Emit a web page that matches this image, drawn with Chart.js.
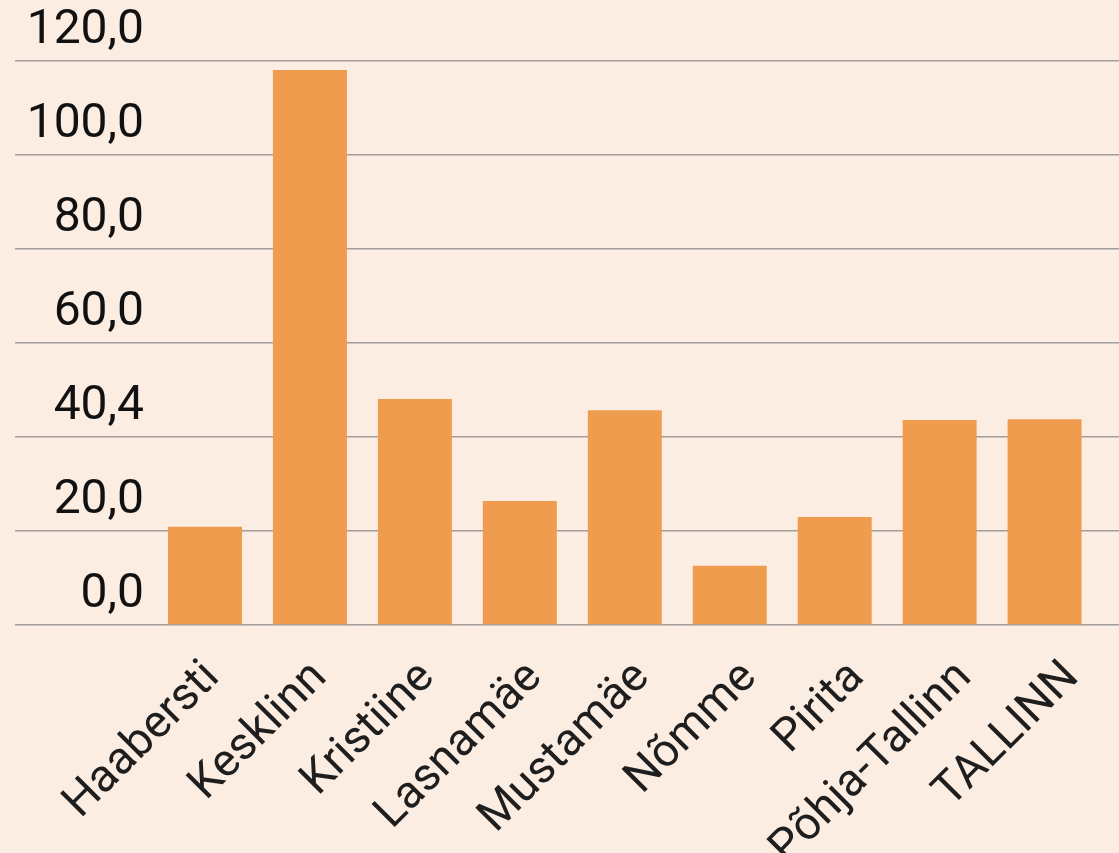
<!DOCTYPE html>
<html lang="et">
<head>
  <meta charset="UTF-8">
  <title>Linnaosad</title>
  <script src="https://cdn.jsdelivr.net/npm/chart.js"></script>
  <style>
    html, body { margin: 0; padding: 0; background: #fcede3; }
    #wrap { width: 1119px; height: 853px; }
  </style>
</head>
<body>
  <div id="wrap"><canvas id="chart"></canvas></div>
  <script>
    // andmed
    const districts = ['Haabersti', 'Kesklinn', 'Kristiine', 'Lasnamäe', 'Mustamäe', 'Nõmme', 'Pirita', 'Põhja-Tallinn', 'TALLINN'];
    const values = [20.9, 118.1, 48.1, 26.4, 45.7, 12.6, 23.0, 43.6, 43.8];
    const tickValues = [0, 20, 40, 60, 80, 100, 120];
    const tickLabels = ['0,0', '20,0', '40,4', '60,0', '80,0', '100,0', '120,0'];

    // tulbad eraldi lineaarsel teljel, sildid kategooriateljel (nagu originaalis veidi laiemalt)
    const barPoints = values.map((v, i) => ({ x: i, y: v }));

    new Chart(document.getElementById('chart'), {
      type: 'bar',
      data: {
        labels: districts,
        datasets: [{
          data: barPoints,
          xAxisID: 'xb',
          backgroundColor: '#f09c4e',
          categoryPercentage: 1,
          barPercentage: 0.705
        }]
      },
      options: {
        responsive: true,
        maintainAspectRatio: false,
        animation: false,
        layout: { padding: { left: 15, right: 0, top: 61, bottom: 0 } },
        plugins: { legend: { display: false }, tooltip: { enabled: false } },
        scales: {
          xb: {
            type: 'linear',
            display: false,
            offset: false,
            min: -0.505,
            max: 8.709,
            afterBuildTicks: s => { s.ticks = barPoints.map(p => ({ value: p.x })); }
          },
          x: {
            type: 'category',
            offset: true,
            grid: { display: false },
            border: { display: false },
            ticks: {
              color: '#1e1e1e',
              font: { family: 'Roboto', size: 46 },
              minRotation: 45,
              maxRotation: 45,
              padding: 18,
              labelOffset: 7
            },
            afterFit: s => { s.height = 228; s.paddingLeft = 0; s.paddingRight = 0; }
          },
          y: {
            min: 0,
            max: 120,
            border: { display: false },
            grid: { color: '#a19d9a', lineWidth: 1.5, tickLength: 137 },
            afterBuildTicks: s => { s.ticks = tickValues.map(v => ({ value: v })); },
            ticks: {
              color: '#111',
              font: { family: 'Roboto', size: 48 },
              padding: -129,
              labelOffset: -30,
              callback: (v) => tickLabels[tickValues.indexOf(v)]
            },
            afterFit: s => { s.width = 137; s.paddingTop = 0; s.paddingBottom = 0; }
          }
        }
      }
    });
  </script>
</body>
</html>
